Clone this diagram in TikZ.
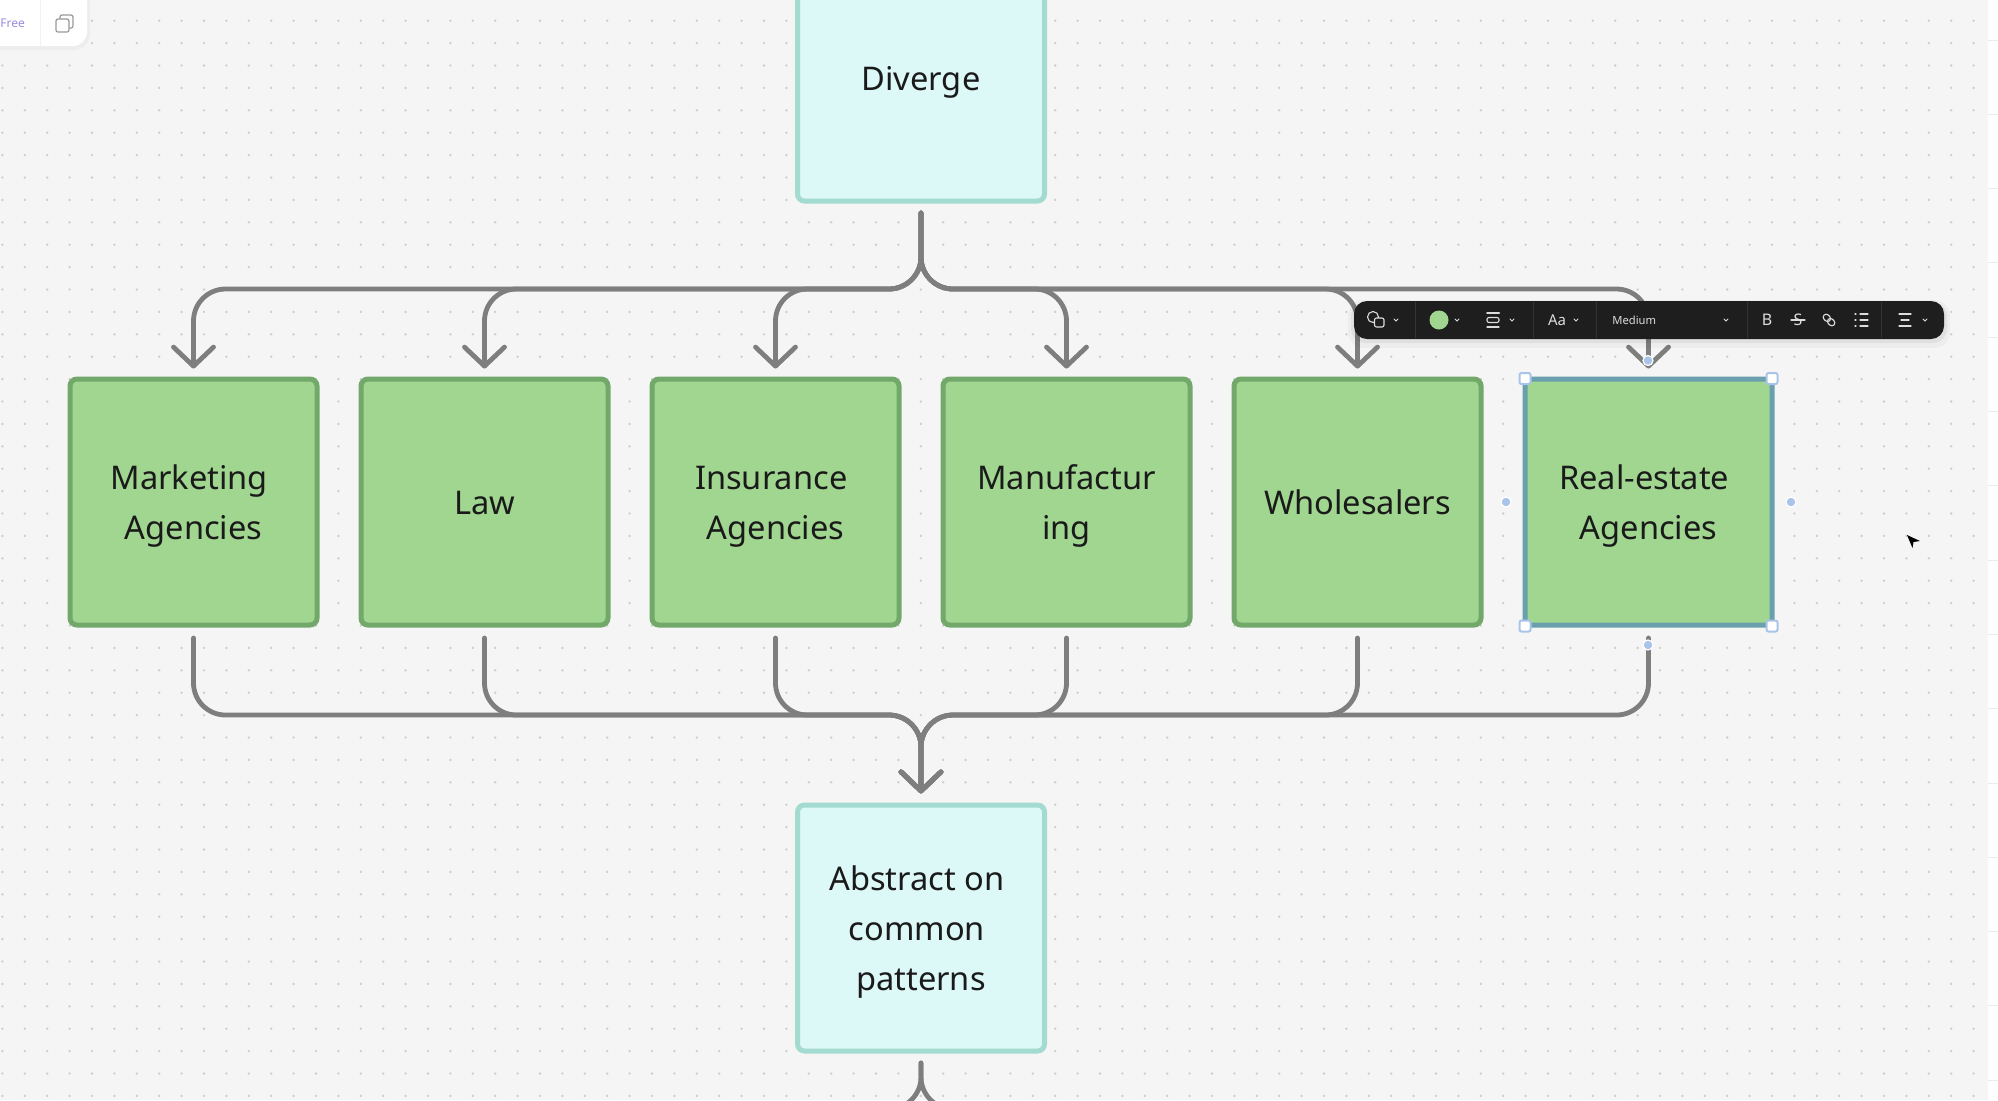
\documentclass[tikz,border=0pt]{standalone}
\usepackage{fontspec}
\setmainfont{Noto Sans}
\usetikzlibrary{arrows.meta}
\definecolor{canvas}{HTML}{F5F5F5}
\definecolor{griddot}{HTML}{CDCDCD}
\definecolor{aquafill}{HTML}{DCF8F7}
\definecolor{aquaedge}{HTML}{A3DBD0}
\definecolor{greenfill}{HTML}{A0D690}
\definecolor{greenedge}{HTML}{72A96A}
\definecolor{selectedge}{HTML}{6A9FAD}
\definecolor{handleblue}{HTML}{A9C4E8}
\definecolor{linegray}{HTML}{7E7E7E}
\definecolor{inkblack}{HTML}{1A1A1A}
\definecolor{barblack}{HTML}{1E1E1E}
\definecolor{barline}{HTML}{343434}
\definecolor{baricon}{HTML}{DDDDDD}
\definecolor{freepurple}{HTML}{9B8CE0}
\newcommand{\tsp}{\ \mbox{}}
\newcommand{\linestrut}{\rule[-6.2pt]{0pt}{24.4pt}}
\begin{document}
\begin{tikzpicture}[x=0.5pt, y=-0.5pt]
    \tikzstyle{box_style} = [rectangle, rounded corners=3.5pt, minimum width=123.5pt, minimum height=123pt, inner sep=0pt, line width=2.5pt, align=center, text=inkblack, font=\fontsize{16.3}{25}\selectfont, execute at begin node=\linestrut, execute at end node=\linestrut]
    \tikzstyle{aqua_box} = [box_style, draw=aquaedge, fill=aquafill]
    \tikzstyle{green_box} = [box_style, draw=greenedge, fill=greenfill]
    \tikzstyle{picked_box} = [box_style, rounded corners=1pt, draw=selectedge, fill=greenfill]
    \tikzstyle{flow_line} = [draw=linegray, line width=2.4pt, rounded corners=16pt, line cap=round]
    \tikzstyle{flow_arrow} = [flow_line, -{Straight Barb[length=9.5pt,width=20pt,round]}]
    \tikzstyle{corner_handle} = [rectangle, rounded corners=1pt, draw=handleblue, fill=white, line width=1pt, minimum size=5.5pt, inner sep=0pt]
    \tikzstyle{side_handle} = [circle, draw=white, fill=handleblue, line width=0.6pt, minimum size=5pt, inner sep=0pt]
    \tikzstyle{bar_icon} = [draw=baricon, line width=0.55pt, line cap=round]
    \tikzstyle{bar_text} = [text=baricon, inner sep=0pt]
    \tikzstyle{bar_sep} = [draw=barline, line width=0.5pt]
    \tikzset{chevron/.pic={\draw[draw=baricon, line width=0.5pt, line cap=round] (-2,-1) -- (0,1) -- (2,-1);}}

    % canvas
    \useasboundingbox (0,0) rectangle (1998,1100);
    \fill[canvas] (0,0) rectangle (1998,1100);
    \foreach \i in {0,...,88} {
        \fill[griddot] \foreach \j in {0,...,49} {(2.4+22.4*\i,-1.7+22.4*\j) circle (1.3)};
    }
    \fill[white] (1988,0) rectangle (1998,1100);
    \foreach \k in {0,...,14} {
        \draw[draw=black!8, line width=0.5pt] (1988,40+74.3*\k) -- (1998,40+74.3*\k);
    }

    % boxes
    \node[aqua_box] (diverge) at (921,78) {Diverge};
    \node[green_box] (marketing) at (193.5,502) {\linestrut Marketing\tsp\\Agencies};
    \node[green_box] (law) at (484.5,502) {Law};
    \node[green_box] (insurance) at (775.5,502) {\linestrut Insurance\tsp\\Agencies};
    \node[green_box] (manufacturing) at (1066.5,502) {\linestrut Manufactur\\ing};
    \node[green_box] (wholesalers) at (1357.5,502) {Wholesalers};
    \node[picked_box] (realestate) at (1648.5,502) {\linestrut Real-estate\tsp\\Agencies};
    \node[aqua_box] (abstract) at (921,928) {\linestrut Abstract on\tsp\\common\tsp\\patterns};

    \coordinate (topbus) at (921,289);
    \coordinate (lowbus) at (921,715);
    \coordinate (nextbus) at (921,1109);
    \coordinate (nextleft) at (600,1109);
    \coordinate (nextright) at (1240,1109);

    % diverge to the six boxes
    \draw[flow_arrow, shorten <=4.75pt, shorten >=4pt] (diverge.south) -- (topbus) -| (marketing.north);
    \draw[flow_arrow, shorten <=4.75pt, shorten >=4pt] (diverge.south) -- (topbus) -| (law.north);
    \draw[flow_arrow, shorten <=4.75pt, shorten >=4pt] (diverge.south) -- (topbus) -| (insurance.north);
    \draw[flow_arrow, shorten <=4.75pt, shorten >=4pt] (diverge.south) -- (topbus) -| (manufacturing.north);
    \draw[flow_arrow, shorten <=4.75pt, shorten >=4pt] (diverge.south) -- (topbus) -| (wholesalers.north);
    \draw[flow_arrow, shorten <=4.75pt, shorten >=4pt] (diverge.south) -- (topbus) -| (realestate.north);

    % the six boxes to abstract
    \draw[flow_arrow, shorten <=5.25pt, shorten >=4.6pt] (marketing.south) |- (lowbus) -- (abstract.north);
    \draw[flow_arrow, shorten <=5.25pt, shorten >=4.6pt] (law.south) |- (lowbus) -- (abstract.north);
    \draw[flow_arrow, shorten <=5.25pt, shorten >=4.6pt] (insurance.south) |- (lowbus) -- (abstract.north);
    \draw[flow_arrow, shorten <=5.25pt, shorten >=4.6pt] (manufacturing.south) |- (lowbus) -- (abstract.north);
    \draw[flow_arrow, shorten <=5.25pt, shorten >=4.6pt] (wholesalers.south) |- (lowbus) -- (abstract.north);
    \draw[flow_arrow, shorten <=5.25pt, shorten >=4.6pt] (realestate.south) |- (lowbus) -- (abstract.north);

    % abstract to what comes next
    \draw[flow_line, shorten <=4.75pt] (abstract.south) -- (nextbus) -- (nextleft);
    \draw[flow_line, shorten <=4.75pt] (abstract.south) -- (nextbus) -- (nextright);

    % selection handles
    \node[side_handle] (handletop) at (1648,360.5) {};
    \node[side_handle] (handlelow) at (1648,645) {};
    \node[side_handle] (handleleft) at (1506,502) {};
    \node[side_handle] (handleright) at (1791,502) {};
    \node[corner_handle] (cornernw) at (1525,378.5) {};
    \node[corner_handle] (cornerne) at (1772,378.5) {};
    \node[corner_handle] (cornersw) at (1525,626) {};
    \node[corner_handle] (cornerse) at (1772,626) {};

    % format bar
    \fill[black, opacity=0.03, rounded corners=8pt] (1348,300) rectangle (1950,348);
    \fill[black, opacity=0.05, rounded corners=7pt] (1351,302) rectangle (1947,343);
    \fill[barblack, rounded corners=6.5pt] (1354,301) rectangle (1944,339);
    \draw[bar_sep] (1415,302) -- (1415,338);
    \draw[bar_sep] (1533,302) -- (1533,338);
    \draw[bar_sep] (1596,302) -- (1596,338);
    \draw[bar_sep] (1747,302) -- (1747,338);
    \draw[bar_sep] (1881,302) -- (1881,338);
    \draw[bar_icon] (1373,317) circle (5.5);
    \draw[bar_icon, fill=barblack, rounded corners=1pt] (1374.5,318) rectangle (1384,327);
    \fill[greenfill] (1439,320) circle (9.5);
    \draw[bar_icon, line width=1pt] (1487,313) -- (1499,313);
    \draw[bar_icon, rounded corners=1pt] (1487,317.5) rectangle (1499,322.5);
    \draw[bar_icon] (1487,327) -- (1499,327);
    \node[bar_text, font=\fontsize{7.5}{9}\selectfont] (textsize) at (1557,320) {Aa};
    \node[bar_text, anchor=west, font=\fontsize{5.6}{7}\selectfont] (weight) at (1612,320) {Medium};
    \node[bar_text, font=\fontsize{8}{9}\bfseries\selectfont] (bold) at (1767,320) {B};
    \node[bar_text, font=\fontsize{8}{9}\selectfont] (strike) at (1798,320) {S};
    \draw[bar_icon] (1791,320) -- (1805,320);
    \draw[bar_icon, rounded corners=1.5pt, rotate around={-45:(1829,320)}] (1822,317) rectangle (1830,323);
    \draw[bar_icon, rounded corners=1.5pt, rotate around={-45:(1829,320)}] (1828,317) rectangle (1836,323);
    \draw[bar_icon] (1855,314) -- (1856,314) (1860,314) -- (1868,314);
    \draw[bar_icon] (1855,320) -- (1856,320) (1860,320) -- (1868,320);
    \draw[bar_icon] (1855,326) -- (1856,326) (1860,326) -- (1868,326);
    \draw[bar_icon] (1899,314) -- (1911,314);
    \draw[bar_icon] (1901,320) -- (1909,320);
    \draw[bar_icon] (1899,326) -- (1911,326);
    \pic at (1396,320) {chevron};
    \pic at (1457,320) {chevron};
    \pic at (1512,320) {chevron};
    \pic at (1576,320) {chevron};
    \pic at (1726,320) {chevron};
    \pic at (1925,320) {chevron};

    % plan panel
    \fill[black, opacity=0.03, rounded corners=8pt] (-20,-20) rectangle (90,50);
    \fill[white, rounded corners=7pt] (-20,-20) rectangle (87,46);
    \draw[draw=black!5, line width=0.5pt] (40,0) -- (40,46);
    \node[text=freepurple, inner sep=0pt, anchor=west, font=\fontsize{6}{7}\selectfont] (plan) at (0,23) {Free};
    \draw[draw=black!40, line width=0.6pt, rounded corners=1pt] (60,15) rectangle (73,28);
    \draw[draw=black!40, fill=white, line width=0.6pt, rounded corners=1pt] (56,19) rectangle (69,32);

    % pointer
    \fill[black] (1907,535) -- (1920,541) -- (1913.5,542) -- (1912.5,548) -- cycle;
\end{tikzpicture}
\end{document}
